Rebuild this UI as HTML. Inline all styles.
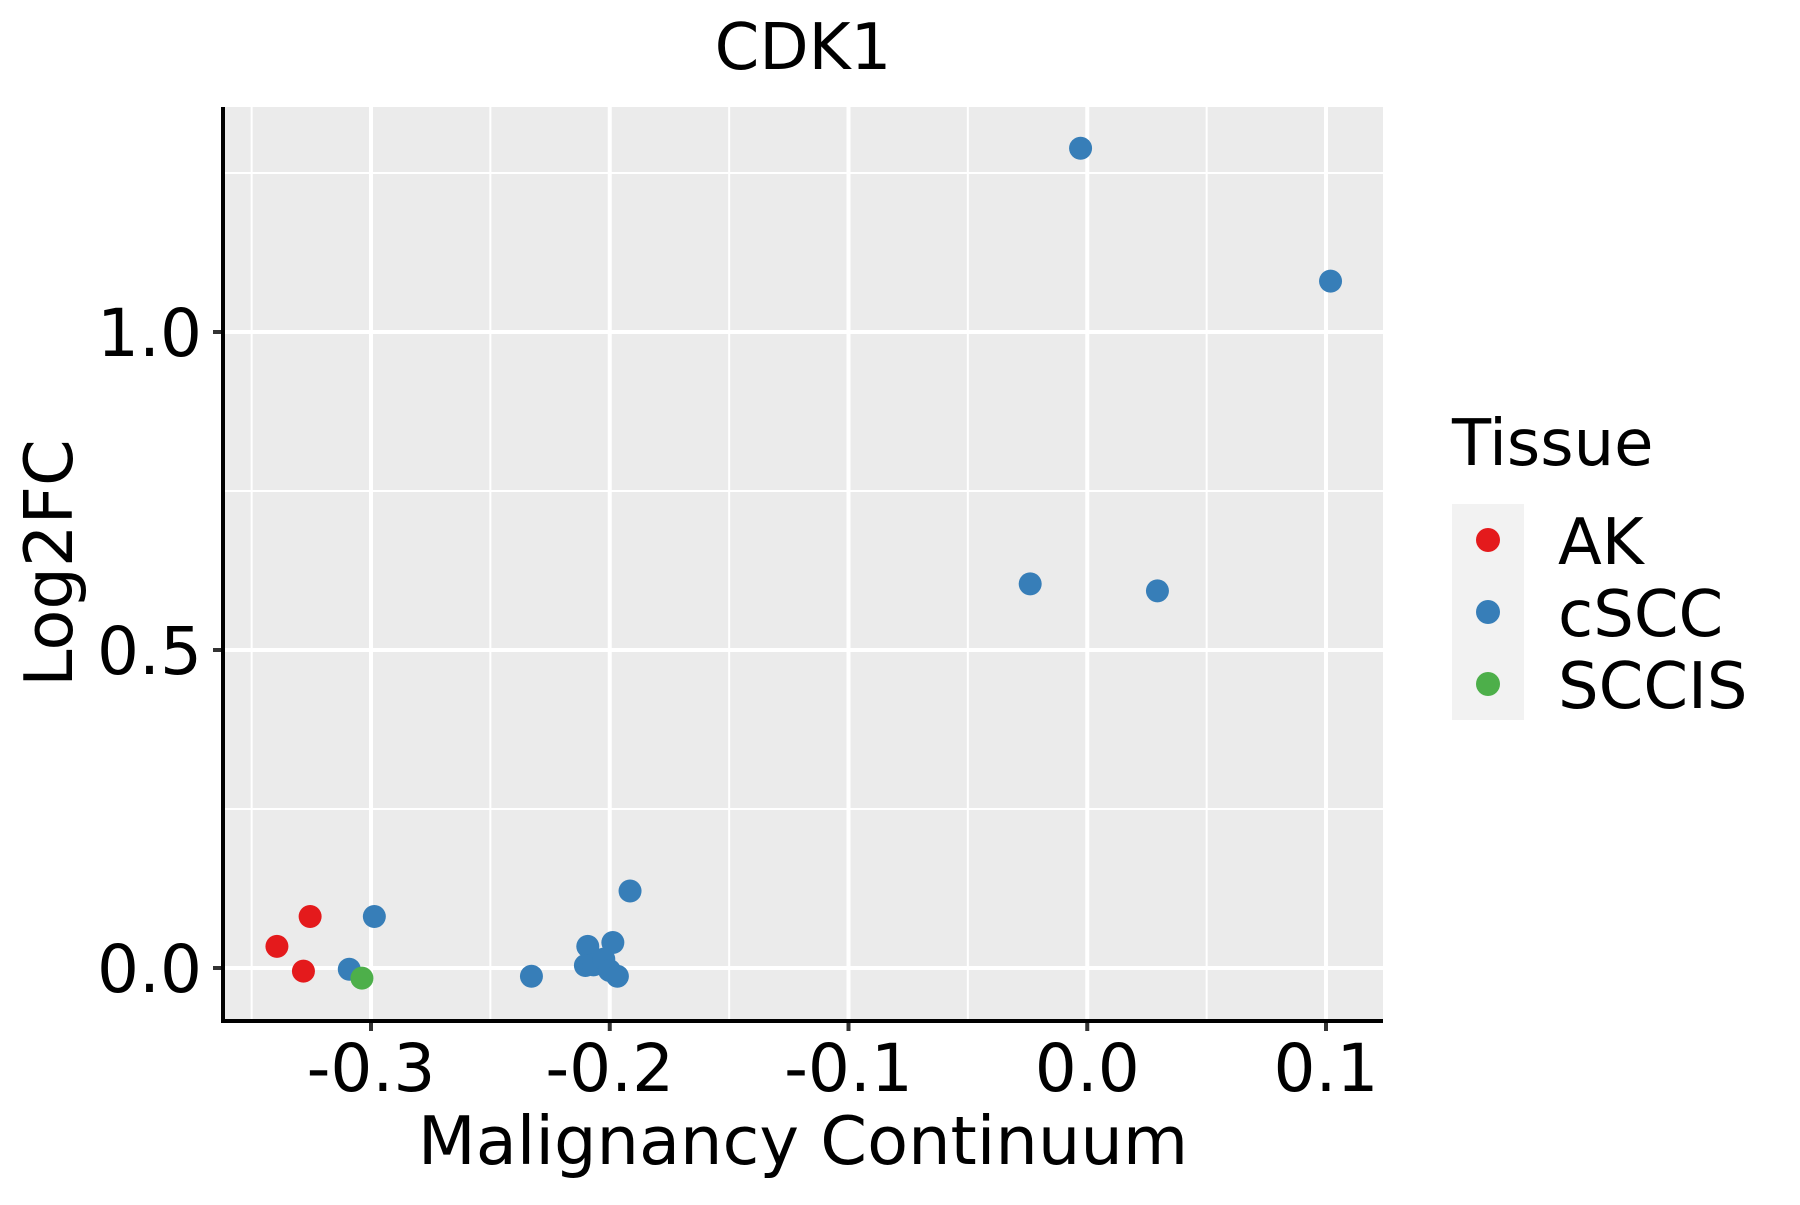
<!DOCTYPE html>
<html><head><meta charset="utf-8"><style>
html,body{margin:0;padding:0;background:#fff;}
svg text{font-family:"DejaVu Sans","Liberation Sans",sans-serif;fill:#000;}
</style></head><body>
<svg id="chart" width="1800" height="1200" viewBox="0 0 1800 1200" xmlns="http://www.w3.org/2000/svg">
<rect x="0" y="0" width="1800" height="1200" fill="#fff"/>
<text x="803" y="69" font-size="64" text-anchor="middle">CDK1</text>
<g id="plot"></g>
<text x="803" y="1164" font-size="67" text-anchor="middle">Malignancy Continuum</text>
<text transform="translate(72,563) rotate(-90)" font-size="67" text-anchor="middle">Log2FC</text>
<g>
<text x="1452" y="465" font-size="64">Tissue</text>
<rect x="1452" y="504" width="72" height="216" fill="#f2f2f2"/>
<circle cx="1488" cy="540" r="12" fill="#e41a1c"/>
<circle cx="1488" cy="612" r="12" fill="#377eb8"/>
<circle cx="1488" cy="684" r="12" fill="#4daf4a"/>
<text x="1558" y="564" font-size="64">AK</text>
<text x="1558" y="636" font-size="64">cSCC</text>
<text x="1558" y="708" font-size="64">SCCIS</text>
</g>
</svg>
<script>
const xTicks = [-0.3, -0.2, -0.1, 0.0, 0.1];
const xTickLabels = ["-0.3", "-0.2", "-0.1", "0.0", "0.1"];
const xMinor = [-0.35, -0.25, -0.15, -0.05, 0.05];
const yTicks = [0.0, 0.5, 1.0];
const yTickLabels = ["0.0", "0.5", "1.0"];
const yMinor = [0.25, 0.75, 1.25];
const tissue = ["AK","AK","AK","cSCC","cSCC","SCCIS","cSCC","cSCC","cSCC","cSCC","cSCC","cSCC","cSCC","cSCC","cSCC","cSCC","cSCC","cSCC","cSCC"];
const xValues = [-0.3394,-0.3255,-0.3283,-0.2986,-0.3091,-0.3038,-0.2328,-0.2092,-0.1987,-0.2102,-0.2068,-0.2025,-0.2001,-0.1968,-0.1915,-0.0028,0.1019,-0.0239,0.0294];
const yValues = [0.034,0.081,-0.005,0.081,-0.002,-0.016,-0.013,0.034,0.040,0.004,0.005,0.014,-0.004,-0.013,0.121,1.289,1.080,0.604,0.593];

const colors = {AK:"#e41a1c", cSCC:"#377eb8", SCCIS:"#4daf4a"};
const L=223,R=1383,T=107,B=1021;
const x = v => 371 + (v + 0.3) * 2387.5;
const y = v => 968 - v * 636;
const NS="http://www.w3.org/2000/svg";
const g=document.getElementById('plot');
function mk(tag, attrs){const e=document.createElementNS(NS,tag);for(const k in attrs)e.setAttribute(k,attrs[k]);g.appendChild(e);return e;}
let e=mk('rect',{x:L,y:T,width:R-L,height:B-T,fill:'#ebebeb'});


xMinor.forEach(v=>{const l=mk('line',{x1:x(v),x2:x(v),y1:T,y2:B,stroke:'#fff','stroke-width':2});

});
yMinor.forEach(v=>{const l=mk('line',{x1:L,x2:R,y1:y(v),y2:y(v),stroke:'#fff','stroke-width':2});

});
xTicks.forEach((v,i)=>{const l=mk('line',{x1:x(v),x2:x(v),y1:T,y2:B,stroke:'#fff','stroke-width':4});


const t=mk('line',{x1:x(v),x2:x(v),y1:B,y2:B+10,stroke:'#333','stroke-width':4});


const tx=mk('text',{x:x(v),y:1091,'font-size':66,'text-anchor':'middle'});tx.textContent=xTickLabels[i];

});
yTicks.forEach((v,i)=>{const l=mk('line',{x1:L,x2:R,y1:y(v),y2:y(v),stroke:'#fff','stroke-width':4});


const t=mk('line',{x1:L-10,x2:L,y1:y(v),y2:y(v),stroke:'#333','stroke-width':4});


const tx=mk('text',{x:202,y:y(v)+24,'font-size':66,'text-anchor':'end'});tx.textContent=yTickLabels[i];

});
let ax=mk('line',{x1:L,x2:L,y1:T,y2:B+2,stroke:'#000','stroke-width':4});


ax=mk('line',{x1:L-2,x2:R,y1:B,y2:B,stroke:'#000','stroke-width':4});


xValues.forEach((v,i)=>{const c=mk('circle',{cx:x(v),cy:y(yValues[i]),r:11.5,fill:colors[tissue[i]]});

});
</script>
</body></html>
